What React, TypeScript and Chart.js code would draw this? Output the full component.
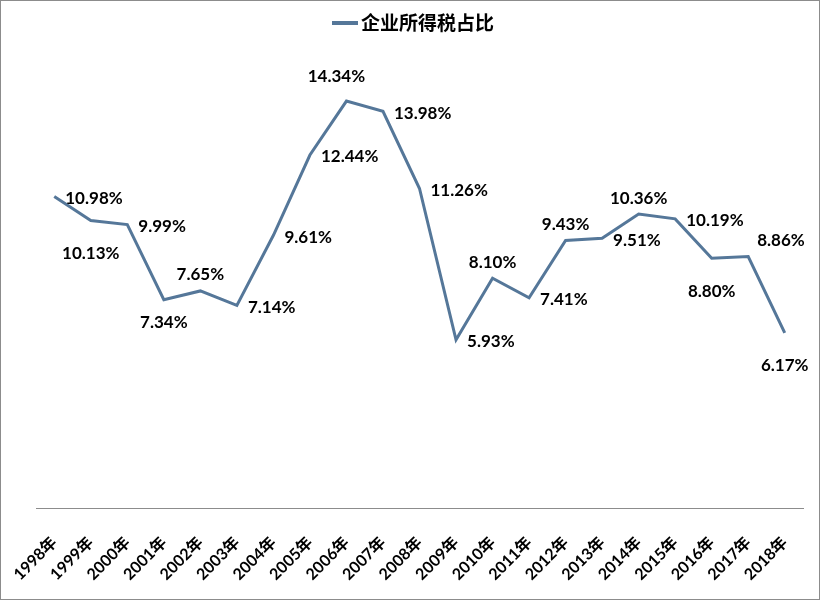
import React, { useEffect, useRef } from "react";
import { Chart, registerables } from "chart.js";
Chart.register(...registerables);

const years = ["1998年", "1999年", "2000年", "2001年", "2002年", "2003年", "2004年", "2005年", "2006年", "2007年", "2008年", "2009年", "2010年", "2011年", "2012年", "2013年", "2014年", "2015年", "2016年", "2017年", "2018年"];
const shares = [10.98, 10.13, 9.99, 7.34, 7.65, 7.14, 9.61, 12.44, 14.34, 13.98, 11.26, 5.93, 8.10, 7.41, 9.43, 9.51, 10.36, 10.19, 8.80, 8.86, 6.17];
const seriesName = "企业所得税占比";
const labelPlacement = ["right", "below", "right", "belowNear", "above", "right", "right", "right", "aboveFar", "right", "right", "right", "above", "right", "above", "right", "above", "right", "below", "upRight", "below"];

const LINE_COLOR = "#557799";
const LABEL_FONT = "bold 17px Lato, 'Noto Sans CJK SC', sans-serif";
const LEGEND_FONT = "bold 19px 'Noto Sans CJK SC', sans-serif";

const valueLabels = {
  id: "valueLabels",
  afterDatasetsDraw(chart: any) {
    const meta = chart.getDatasetMeta(0);
    const ctx = chart.ctx;
    ctx.save();
    ctx.font = LABEL_FONT;
    ctx.fillStyle = "#000";
    ctx.textBaseline = "middle";
    meta.data.forEach((pt: any, i: number) => {
      const text = shares[i].toFixed(2) + "%";
      const p = labelPlacement[i];
      let x = pt.x;
      let y = pt.y;
      if (p === "right") { ctx.textAlign = "left"; x += 11; y += 2; }
      else if (p === "upRight") { ctx.textAlign = "left"; x += 9; y -= 16; }
      else if (p === "above") { ctx.textAlign = "center"; y -= 16; }
      else if (p === "aboveFar") { ctx.textAlign = "center"; x -= 10; y -= 25; }
      else if (p === "belowNear") { ctx.textAlign = "center"; y += 23; }
      else { ctx.textAlign = "center"; y += 33; }
      ctx.fillText(text, x, y);
    });
    ctx.restore();
  },
};

// Centered single-item legend: short line sample followed closely by the series name
const topLegend = {
  id: "topLegend",
  afterDraw(chart: any) {
    const ctx = chart.ctx;
    const ds = chart.data.datasets[0];
    ctx.save();
    ctx.font = LEGEND_FONT;
    const sample = 26;
    const gap = 3;
    const tw = ctx.measureText(ds.label).width;
    const total = sample + gap + tw;
    const x0 = (chart.width - total) / 2 + 3;
    const y = 22;
    ctx.strokeStyle = ds.borderColor;
    ctx.lineWidth = 4;
    ctx.beginPath();
    ctx.moveTo(x0, y);
    ctx.lineTo(x0 + sample, y);
    ctx.stroke();
    ctx.fillStyle = "#000";
    ctx.textAlign = "left";
    ctx.textBaseline = "middle";
    ctx.fillText(ds.label, x0 + sample + gap, y);
    ctx.restore();
  },
};

export default function App() {
  const ref = useRef<HTMLCanvasElement | null>(null);
  useEffect(() => {
    if (!ref.current) return;
    const chart = new Chart(ref.current, {
      type: "line",
      data: {
        labels: years,
        datasets: [
          {
            label: seriesName,
            data: shares,
            borderColor: LINE_COLOR,
            backgroundColor: LINE_COLOR,
            borderWidth: 3,
            pointRadius: 0,
            tension: 0,
          },
        ],
      },
      options: {
        animation: false,
        responsive: false,
        layout: { padding: { left: 35, right: 16, top: 53, bottom: 0 } },
        plugins: {
          legend: { display: false },
          tooltip: { enabled: false },
        },
        scales: {
          x: {
            offset: true,
            grid: { display: false, drawTicks: false },
            border: { display: true, color: "#8c8c8c", width: 1 },
            afterFit: (s: any) => {
              s.paddingLeft = 0;
              s.paddingRight = 0;
              s.height = 91;
            },
            ticks: {
              color: "#000",
              minRotation: 45,
              maxRotation: 45,
              autoSkip: false,
              padding: 25,
              font: { family: "Lato, 'Noto Sans CJK SC', sans-serif", size: 16, weight: "bold" },
            },
          },
          y: {
            display: false,
            min: 0,
            max: 16,
          },
        },
      },
      plugins: [valueLabels, topLegend],
    });
    return () => chart.destroy();
  }, []);
  return (
    <div style={{ position: "fixed", left: 0, top: 0, width: 820, height: 600, border: "1px solid #8c8c8c", boxSizing: "border-box", background: "#fff" }}>
      <canvas ref={ref} width={818} height={598} style={{ display: "block" }} />
    </div>
  );
}
